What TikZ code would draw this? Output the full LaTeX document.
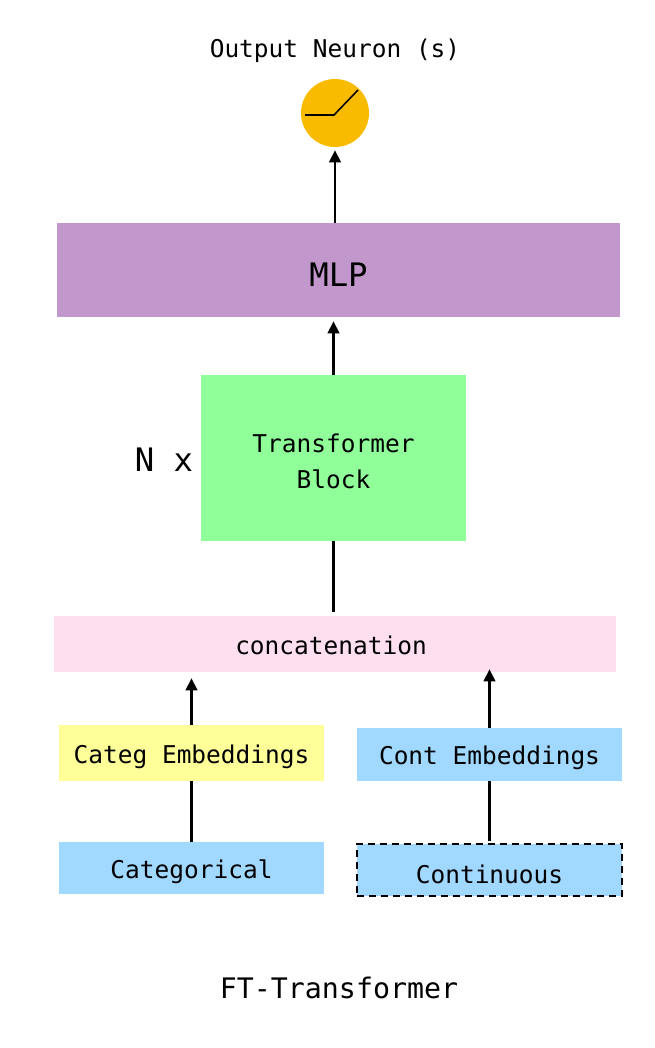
\documentclass[tikz,border=0pt]{standalone}
\usepackage{fontspec}
\setmonofont{DejaVu Sans Mono}
\usetikzlibrary{arrows.meta}
\definecolor{mlpcolor}{HTML}{C197CC}
\definecolor{blockcolor}{HTML}{90FF99}
\definecolor{concatcolor}{HTML}{FDDFF0}
\definecolor{categcolor}{HTML}{FFFF99}
\definecolor{inputcolor}{HTML}{A0D8FF}
\definecolor{neuroncolor}{HTML}{F9BB00}
\tikzset{
	label text/.style = {font = \ttfamily\fontsize{17.4}{25.5}\selectfont, align = center},
	big text/.style = {font = \ttfamily\fontsize{23}{28}\selectfont},
	low text/.style = {text height = #1, text depth = 0pt},
	wide box/.style = {label text, inner sep = 0, low text = 0.5cm},
	input box/.style = {label text, minimum width = 6.625cm, inner sep = 0, low text = 0.5cm},
	flow/.style = {line width = 1.45pt, -{Triangle[length = 3mm, width = 2.9mm]}},
	plain flow/.style = {line width = 1.45pt},
}
\begin{document}
\begin{tikzpicture}[x = 0.025cm, y = -0.025cm]
	\useasboundingbox (0,0) rectangle (654,1048);
	\node [label text] (outputlabel) at (335,51) {Output Neuron (s)};
	\node [circle, fill = neuroncolor, minimum size = 1.7cm, inner sep = 0] (neuron) at (335,113) {};
	\draw [line width = 1.1pt] (305,115) -- (334,115) -- (358,90);
	\node [wide box, big text, low text = 0.8cm, fill = mlpcolor, minimum width = 14.075cm, minimum height = 2.35cm] (mlp) at (338.5,270) {MLP};
	\node [label text, fill = blockcolor, minimum width = 6.625cm, minimum height = 4.15cm, inner sep = 0, low text = 1.5cm] (block) at (333.5,458) {Transformer\\Block};
	\node [big text] (nx) at (164,460) {N x};
	\node [wide box, fill = concatcolor, minimum width = 14.05cm, minimum height = 1.4cm] (concat) at (335,644) {concatenation\kern0.2cm};
	\node [input box, fill = categcolor, minimum height = 1.4cm] (categemb) at (191.5,753) {Categ Embeddings};
	\node [input box, fill = inputcolor, minimum height = 1.325cm] (contemb) at (489.5,754.5) {Cont Embeddings};
	\node [input box, fill = inputcolor, minimum height = 1.3cm] (categ) at (191.5,868) {Categorical};
	\node [input box, low text = 0.65cm, fill = inputcolor, minimum height = 1.3cm, draw, dash pattern = on 0.175cm off 0.125cm, line width = 1.4pt] (cont) at (489.5,870) {Continuous};
	\node [font = \ttfamily\fontsize{20.1}{24}\selectfont] (title) at (339,988) {FT-Transformer};

	\draw [flow, shorten > = 3 * 0.025cm] (mlp.north -| neuron) -- (neuron.south);
	\draw [flow, shorten > = 4 * 0.025cm] (block.north) -- (mlp.south -| block);
	\draw [plain flow, shorten > = 4 * 0.025cm] (block.south) -- (concat.north -| block);
	\draw [flow, shorten > = 6 * 0.025cm] (categemb.north) -- (concat.south -| categemb);
	\draw [flow, shorten > = -3 * 0.025cm] (contemb.north) -- (concat.south -| contemb);
	\draw [plain flow] (categ.north) -- (categemb.south);
	\draw [plain flow, shorten < = 2 * 0.025cm] (cont.north) -- (contemb.south);
\end{tikzpicture}
\end{document}
